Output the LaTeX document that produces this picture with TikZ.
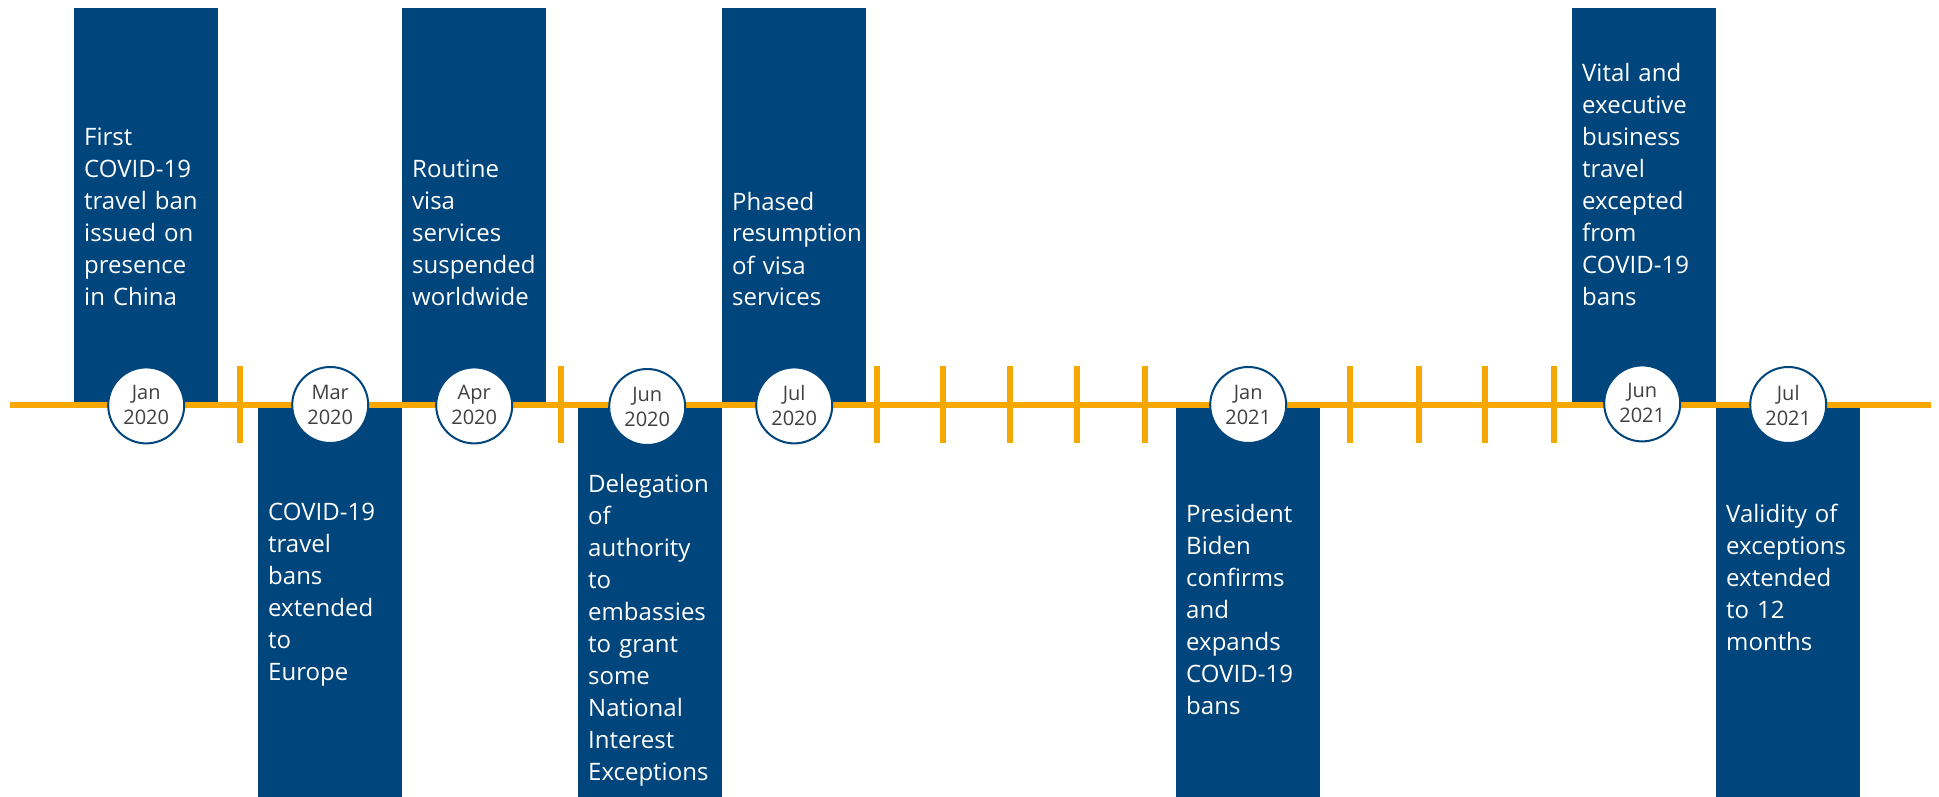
\documentclass[tikz,border=0pt]{standalone}
\usepackage{fontspec}
\setmainfont{Open Sans}
\definecolor{navy}{HTML}{00457C}
\definecolor{amber}{HTML}{F7A800}
\definecolor{datetext}{HTML}{404040}

\begin{document}
\begin{tikzpicture}[x=1pt, y=-1pt,
  upbox/.style = {fill=navy, anchor=north west, inner sep=0pt, minimum width=144pt, minimum height=396pt},
  downbox/.style = {fill=navy, anchor=north west, inner sep=0pt, minimum width=144pt, minimum height=391pt},
  eventtext/.style = {anchor=base west, inner sep=0pt, text=white, align=left, text width=136pt, font=\fontsize{24}{32}\selectfont},
  datedot/.style = {circle, draw=navy, line width=2pt, fill=white, minimum size=76pt, inner sep=0pt, align=center, text=datetext, font=\fontsize{20}{25}\selectfont},
  monthtick/.style = {amber, line width=6pt}]
\useasboundingbox (0,0) rectangle (1939,797);
% event boxes above and below the line
\node[upbox] (b1) at (74,8) {};
\node[downbox] (b2) at (258,406) {};
\node[upbox] (b3) at (402,8) {};
\node[downbox] (b4) at (578,406) {};
\node[upbox] (b5) at (722,8) {};
\node[downbox] (b6) at (1176,406) {};
\node[upbox] (b7) at (1572,8) {};
\node[downbox] (b8) at (1716,406) {};
\node[eventtext] (t1) at ([shift={(10,138)}]b1.north west) {First\\COVID-19\\travel ban\\issued on\\presence\\in China};
\node[eventtext] (t2) at ([shift={(10,114)}]b2.north west) {COVID-19\\travel\\bans\\extended\\to\\Europe};
\node[eventtext] (t3) at ([shift={(10,170)}]b3.north west) {Routine\\visa\\services\\suspended\\worldwide};
\node[eventtext] (t4) at ([shift={(10,86)}]b4.north west) {Delegation\\of\\authority\\to\\embassies\\to grant\\some\\National\\Interest\\Exceptions};
\node[eventtext] (t5) at ([shift={(10,202)}]b5.north west) {Phased\\resumption\\of visa\\services};
\node[eventtext] (t6) at ([shift={(10,116)}]b6.north west) {President\\Biden\\confirms\\and\\expands\\COVID-19\\bans};
\node[eventtext] (t7) at ([shift={(10,74)}]b7.north west) {Vital and\\executive\\business\\travel\\excepted\\from\\COVID-19\\bans};
\node[eventtext] (t8) at ([shift={(10,116)}]b8.north west) {Validity of\\exceptions\\extended\\to 12\\months};
% time line and month ticks
\draw[monthtick] (10,405) -- (1931,405);
\draw[monthtick] (240,366) -- (240,443);
\draw[monthtick] (561,366) -- (561,443);
\draw[monthtick] (877,366) -- (877,443);
\draw[monthtick] (943,366) -- (943,443);
\draw[monthtick] (1010,366) -- (1010,443);
\draw[monthtick] (1077,366) -- (1077,443);
\draw[monthtick] (1145,366) -- (1145,443);
\draw[monthtick] (1350,366) -- (1350,443);
\draw[monthtick] (1419,366) -- (1419,443);
\draw[monthtick] (1485,366) -- (1485,443);
\draw[monthtick] (1554,366) -- (1554,443);
% dates
\node[datedot] (d1) at ([yshift=-1pt]b1.south) {Jan\\2020};
\node[datedot] (d2) at ([yshift=1pt]b2.north) {Mar\\2020};
\node[datedot] (d3) at ([yshift=-1pt]b3.south) {Apr\\2020};
\node[datedot] (d4) at ([shift={(-3,1)}]b4.north) {Jun\\2020};
\node[datedot] (d5) at ([yshift=-1pt]b5.south) {Jul\\2020};
\node[datedot] (d6) at ([yshift=1pt]b6.north) {Jan\\2021};
\node[datedot] (d7) at ([shift={(-2,-1)}]b7.south) {Jun\\2021};
\node[datedot] (d8) at ([yshift=1pt]b8.north) {Jul\\2021};
\end{tikzpicture}
\end{document}
